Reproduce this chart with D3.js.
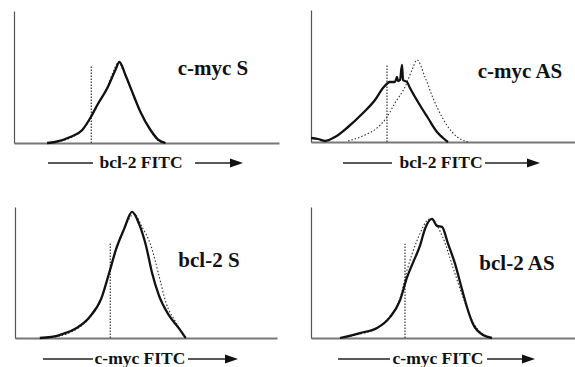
<!DOCTYPE html>
<html>
<head>
<meta charset="utf-8">
<script src="https://cdn.jsdelivr.net/npm/d3@7"></script>
<style>
  body { margin: 0; background: #fff; }
  svg { display: block; }
  .title { font: bold 21px "Liberation Serif", "Times New Roman", serif; fill: #111; text-anchor: middle; }
  .xlabel { font: bold 17.5px "Liberation Serif", "Times New Roman", serif; fill: #111; text-anchor: middle; }
</style>
</head>
<body>
<svg id="chart" width="575" height="367"></svg>
<script>
// histogram traces: [channel, count]
var cmycSSolid = [[33,0],[41,1],[56,6],[68,13],[76,25],[83,38],[93,55],[101,73],[105,81],[111,68],[119,48],[126,31],[136,13],[144,3],[151,0]];
var cmycSDotted = [[33,0],[42,1],[56,5],[68,13],[76,24],[84,39],[93,56],[100,74],[104,81],[109,72],[117,52],[125,33],[135,14],[143,3],[150,0]];
var cmycASSolid = [[0,4],[7,3],[14,1],[24,5],[37,15],[52,29],[64,42],[72,54],[79,60],[84,60],[86,65],[87,61],[89,62],[91,77],[92,62],[96,60],[99,54],[107,40],[117,24],[126,10],[132,4],[137,0]];
var cmycASDotted = [[37,1],[54,7],[66,14],[76,25],[84,39],[94,55],[101,72],[106,82],[114,65],[122,44],[131,25],[141,10],[151,2],[157,0]];
var bcl2SSolid = [[25,0],[45,3],[62,10],[75,21],[87,40],[95,66],[102,90],[110,110],[118,127],[125,115],[132,93],[138,66],[145,43],[155,23],[165,10],[172,0]];
var bcl2SDotted = [[26,0],[45,2],[62,9],[75,20],[87,40],[95,66],[103,92],[111,112],[120,125],[128,112],[137,93],[145,63],[152,36],[162,16],[172,0]];
var bcl2ASSolid = [[29,0],[49,5],[66,10],[79,21],[89,38],[96,61],[102,76],[109,93],[114,110],[121,120],[126,113],[131,112],[137,95],[144,75],[151,49],[156,31],[162,14],[172,3],[181,0]];
var bcl2ASDotted = [[29,0],[49,4],[66,10],[79,22],[89,40],[96,68],[106,98],[119,120],[132,101],[142,71],[152,41],[162,16],[179,0]];

// gate marker [channel, height]
var markers = [[77,78],[76,77],[96,96],[94,95]];
var titles = ["c-myc S", "c-myc AS", "bcl-2 S", "bcl-2 AS"];
var xLabels = ["bcl-2 FITC", "bcl-2 FITC", "c-myc FITC", "c-myc FITC"];

var panels = [
  { ox: 14, oy: 143, right: 279, top: 11, tx: 213, ty: 75, lab: [48, 93, 141, 195, 243, 163], solid: cmycSSolid, dotted: cmycSDotted },
  { ox: 311, oy: 142, right: 575, top: 10, tx: 520, ty: 78, lab: [343, 392, 441, 485, 540, 163], solid: cmycASSolid, dotted: cmycASDotted },
  { ox: 15, oy: 338, right: 277, top: 207, tx: 209, ty: 267, lab: [43, 93, 140, 188, 238, 359], solid: bcl2SSolid, dotted: bcl2SDotted },
  { ox: 311, oy: 338, right: 575, top: 207, tx: 517, ty: 270, lab: [338, 390, 438, 487, 535, 359], solid: bcl2ASSolid, dotted: bcl2ASDotted }
];

var svg = d3.select("#chart");

panels.forEach(function(p, i) {
  var x = d3.scaleLinear().domain([0, 264]).range([p.ox, p.right]);
  var y = d3.scaleLinear().domain([0, 132]).range([p.oy, p.top]);
  var g = svg.append("g");

  var line = d3.line()
    .curve(d3.curveMonotoneX)
    .x(function(d) { return x(d[0]); })
    .y(function(d) { return y(d[1]); });

  g.append("g")
    .attr("transform", "translate(0," + p.oy + ")")
    .call(d3.axisBottom(x).tickValues([]).tickSizeOuter(0))
    .select(".domain").attr("stroke", "#777").attr("stroke-width", 2);

  g.append("g")
    .attr("transform", "translate(" + p.ox + ",0)")
    .call(d3.axisLeft(y).tickValues([]).tickSizeOuter(0))
    .select(".domain").attr("stroke", "#555").attr("stroke-width", 1.2);

  var m = markers[i];
  g.append("line")
    .attr("x1", x(m[0])).attr("x2", x(m[0]))
    .attr("y1", y(0)).attr("y2", y(m[1]))
    .attr("stroke", "#333").attr("stroke-width", 1.2)
    .attr("stroke-dasharray", "1.5,1.5");

  g.append("path").datum(p.dotted)
    .attr("d", line)
    .attr("fill", "none").attr("stroke", "#333")
    .attr("stroke-width", 1.1).attr("stroke-dasharray", "1.5,2");

  g.append("path").datum(p.solid)
    .attr("d", line)
    .attr("fill", "none").attr("stroke", "#111")
    .attr("stroke-width", 2.3).attr("stroke-linejoin", "round");

  g.append("text").attr("class", "title")
    .attr("x", p.tx).attr("y", p.ty).text(titles[i]);

  var l = p.lab;
  g.append("line")
    .attr("x1", l[0]).attr("x2", l[1]).attr("y1", l[5]).attr("y2", l[5])
    .attr("stroke", "#222").attr("stroke-width", 1.4);
  g.append("text").attr("class", "xlabel")
    .attr("x", l[2]).attr("y", l[5] + 5).text(xLabels[i]);
  g.append("line")
    .attr("x1", l[3]).attr("x2", l[4] - 10).attr("y1", l[5]).attr("y2", l[5])
    .attr("stroke", "#222").attr("stroke-width", 1.4);
  g.append("path")
    .attr("d", "M" + (l[4] - 13) + "," + (l[5] - 4.5) + "L" + l[4] + "," + l[5] + "L" + (l[4] - 13) + "," + (l[5] + 4.5) + "Z")
    .attr("fill", "#111");
});
</script>
</body>
</html>
